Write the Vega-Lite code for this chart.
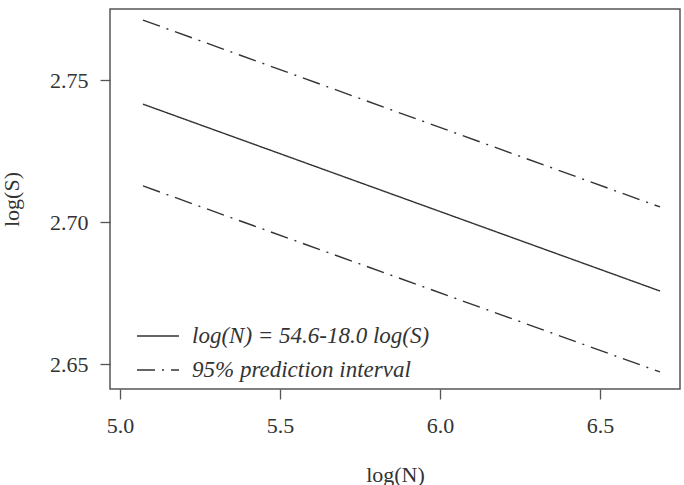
{
  "$schema": "https://vega.github.io/schema/vega-lite/v6.json",
  "width": 570,
  "height": 380,
  "autosize": "none",
  "padding": {"left": 110, "top": 9, "right": 4, "bottom": 96},
  "background": "white",
  "config": {
    "font": "Liberation Serif",
    "view": {"stroke": "#555555", "strokeWidth": 1.5},
    "axis": {
      "domain": false,
      "grid": false,
      "tickColor": "#555555",
      "tickWidth": 1.3,
      "tickSize": 10,
      "labelFont": "Liberation Serif",
      "labelFontSize": 22,
      "labelColor": "#333333",
      "titleFont": "Liberation Serif",
      "titleFontSize": 22,
      "titleFontWeight": "normal",
      "titleColor": "#333333"
    }
  },
  "data": {
    "values": [
      {"line": "fit", "type": "log(N) = 54.6-18.0 log(S)", "logN": 5.072, "logS": 2.7415},
      {"line": "fit", "type": "log(N) = 54.6-18.0 log(S)", "logN": 6.6875, "logS": 2.6757},
      {"line": "upper", "type": "95% prediction interval", "logN": 5.072, "logS": 2.7711},
      {"line": "upper", "type": "95% prediction interval", "logN": 6.6875, "logS": 2.7053},
      {"line": "lower", "type": "95% prediction interval", "logN": 5.072, "logS": 2.7127},
      {"line": "lower", "type": "95% prediction interval", "logN": 6.6875, "logS": 2.6472}
    ]
  },
  "mark": {"type": "line", "color": "#333333", "strokeWidth": 1.4},
  "encoding": {
    "x": {
      "field": "logN", "type": "quantitative", "title": "log(N)",
      "scale": {"domain": [4.969, 6.75], "nice": false, "zero": false},
      "axis": {"values": [5.0, 5.5, 6.0, 6.5], "format": ".1f", "labelPadding": 16, "titlePadding": 28}
    },
    "y": {
      "field": "logS", "type": "quantitative", "title": "log(S)",
      "scale": {"domain": [2.6412, 2.775], "nice": false, "zero": false},
      "axis": {"values": [2.65, 2.70, 2.75], "format": ".2f", "labelPadding": 12, "titlePadding": 26}
    },
    "detail": {"field": "line"},
    "strokeDash": {
      "field": "type", "type": "nominal",
      "scale": {"domain": ["log(N) = 54.6-18.0 log(S)", "95% prediction interval"], "range": [[1, 0], [18, 7, 2, 7]]},
      "legend": {
        "title": null,
        "orient": "none",
        "legendX": 26,
        "legendY": 305,
        "symbolType": "stroke",
        "symbolSize": 1764,
        "symbolStrokeColor": "#333333",
        "symbolStrokeWidth": 1.4,
        "labelFont": "Liberation Serif",
        "labelFontSize": 23,
        "labelFontStyle": "italic",
        "labelColor": "#333333",
        "labelLimit": 500,
        "labelOffset": 12,
        "rowPadding": -10
      }
    }
  }
}
